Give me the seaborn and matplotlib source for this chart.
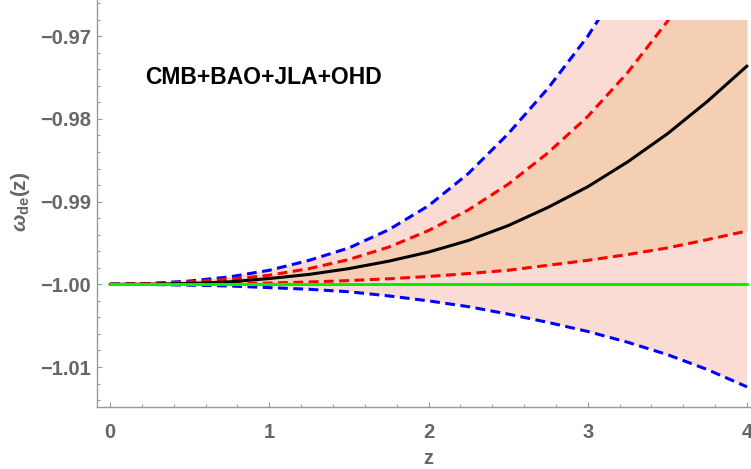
import numpy as np
import pandas as pd
import matplotlib
matplotlib.use("Agg")
import matplotlib.pyplot as plt
import matplotlib.patches as mpatches
from matplotlib.ticker import MultipleLocator
import seaborn as sns

# values
z = [0.0, 0.25, 0.5, 0.75, 1.0, 1.25, 1.5, 1.75, 2.0, 2.25, 2.5, 2.75, 3.0, 3.25, 3.5, 3.75, 4.0]
w_best = [-1.0, -0.99998, -0.9999, -0.9997, -0.9993, -0.9988, -0.9981, -0.9972, -0.9961,
          -0.9947, -0.9929, -0.9907, -0.9882, -0.9852, -0.9818, -0.9779, -0.9736]
w_1s_up = [-1.0, -0.9999, -0.9997, -0.9994, -0.9989, -0.9981, -0.9970, -0.9955, -0.9935,
           -0.9910, -0.9879, -0.9841, -0.9797, -0.9744, -0.9682, -0.9614, -0.9538]
w_1s_lo = [-1.0, -0.999995, -0.99998, -0.99993, -0.99985, -0.99972, -0.99955, -0.99933,
           -0.99905, -0.9987, -0.9983, -0.9977, -0.9971, -0.9964, -0.9956, -0.9946, -0.99355]
w_2s_up = [-1.0, -0.9999, -0.9996, -0.9991, -0.9983, -0.9971, -0.9956, -0.9934, -0.9905,
           -0.9866, -0.9818, -0.9763, -0.9700, -0.9625, -0.9540, -0.9440, -0.9330]
w_2s_lo = [-1.0, -1.00002, -1.0001, -1.0002, -1.0004, -1.0006, -1.0009, -1.0014, -1.0020,
           -1.0027, -1.0036, -1.0046, -1.0057, -1.0070, -1.0085, -1.0103, -1.0124]
w_lcdm = -1.0

x_ticks = [0, 1, 2, 3, 4]
x_labels = ["0", "1", "2", "3", "4"]
y_ticks = [-1.01, -1.00, -0.99, -0.98, -0.97]
y_labels = ["\u22121.01", "\u22121.00", "\u22120.99", "\u22120.98", "\u22120.97"]
title = "CMB+BAO+JLA+OHD"

df = pd.DataFrame({"z": z, "best": w_best, "up1": w_1s_up, "lo1": w_1s_lo,
                   "up2": w_2s_up, "lo2": w_2s_lo})

sns.set_style("white")
plt.rcParams["font.family"] = ["Liberation Sans", "DejaVu Sans"]
plt.rcParams["mathtext.fontset"] = "custom"
plt.rcParams["mathtext.rm"] = "Liberation Sans:bold"
plt.rcParams["mathtext.it"] = "Liberation Sans:italic:bold"
plt.rcParams["mathtext.bf"] = "Liberation Sans:bold"

fig = plt.figure(figsize=(7.51, 4.69), dpi=100)
ax = fig.add_axes([97.3 / 751, 1 - 407.3 / 469, 1 - 97.3 / 751, 407.3 / 469])

# plot range of the curves is cut at -0.968
clip = mpatches.Rectangle((-1, -1.1), 6, 0.132, transform=ax.transData)

f2 = ax.fill_between(df["z"], df["lo2"], df["up2"], color="#fadcd4", lw=0)
f1 = ax.fill_between(df["z"], df["lo1"], df["up1"], color="#f4cfb3", lw=0)
f2.set_clip_path(clip)
f1.set_clip_path(clip)

lw = 2.2
for col in ["up2", "lo2"]:
    sns.lineplot(data=df, x="z", y=col, ax=ax, color="#0000ff", lw=lw)
    ax.lines[-1].set_dashes((3.2, 1.8))
for col in ["up1", "lo1"]:
    sns.lineplot(data=df, x="z", y=col, ax=ax, color="#ff0000", lw=lw)
    ax.lines[-1].set_dashes((3.2, 1.8))
sns.lineplot(data=df, x="z", y="best", ax=ax, color="black", lw=lw)
ax.plot([z[0], z[-1]], [w_lcdm, w_lcdm], color="#00ee00", lw=lw)
for ln in ax.lines:
    ln.set_clip_path(clip)

ax.set_xlim(-0.08, 4.025)
ax.set_ylim(-1.01487, -0.96562)
ax.set_xticks(x_ticks)
ax.set_xticklabels(x_labels)
ax.set_yticks(y_ticks)
ax.set_yticklabels(y_labels)
ax.xaxis.set_minor_locator(MultipleLocator(0.2))
ax.yaxis.set_minor_locator(MultipleLocator(0.002))
ax.tick_params(which="both", direction="in", color="#999999", width=0.8,
               bottom=True, left=True)
ax.tick_params(which="major", length=3.6)
ax.tick_params(which="minor", length=2.0)
ax.tick_params(axis="y", pad=4.8)
ax.tick_params(axis="x", pad=11)
for lab in ax.get_xticklabels() + ax.get_yticklabels():
    lab.set_fontsize(14.5)
    lab.set_fontweight("bold")
    lab.set_color("#666666")

sns.despine(ax=ax)
for s in ["left", "bottom"]:
    ax.spines[s].set_color("#999999")
    ax.spines[s].set_linewidth(1.0)
ax.set_xlabel("")
ax.set_ylabel("")

ax.text(0.22, -0.9750, title, fontsize=16.5, fontweight="bold", color="black",
        ha="left", va="center")
fig.text(428 / 751, 1 - 458 / 469, "z", fontsize=14.5, fontweight="bold",
         color="#666666", ha="center", va="center")
fig.text(20.5 / 751, 1 - 202 / 469, r"$\omega_{\mathrm{de}}(\mathrm{z})$", fontsize=15,
         color="#666666", ha="center", va="center", rotation=90)

fig.savefig("out.png", dpi=100)
